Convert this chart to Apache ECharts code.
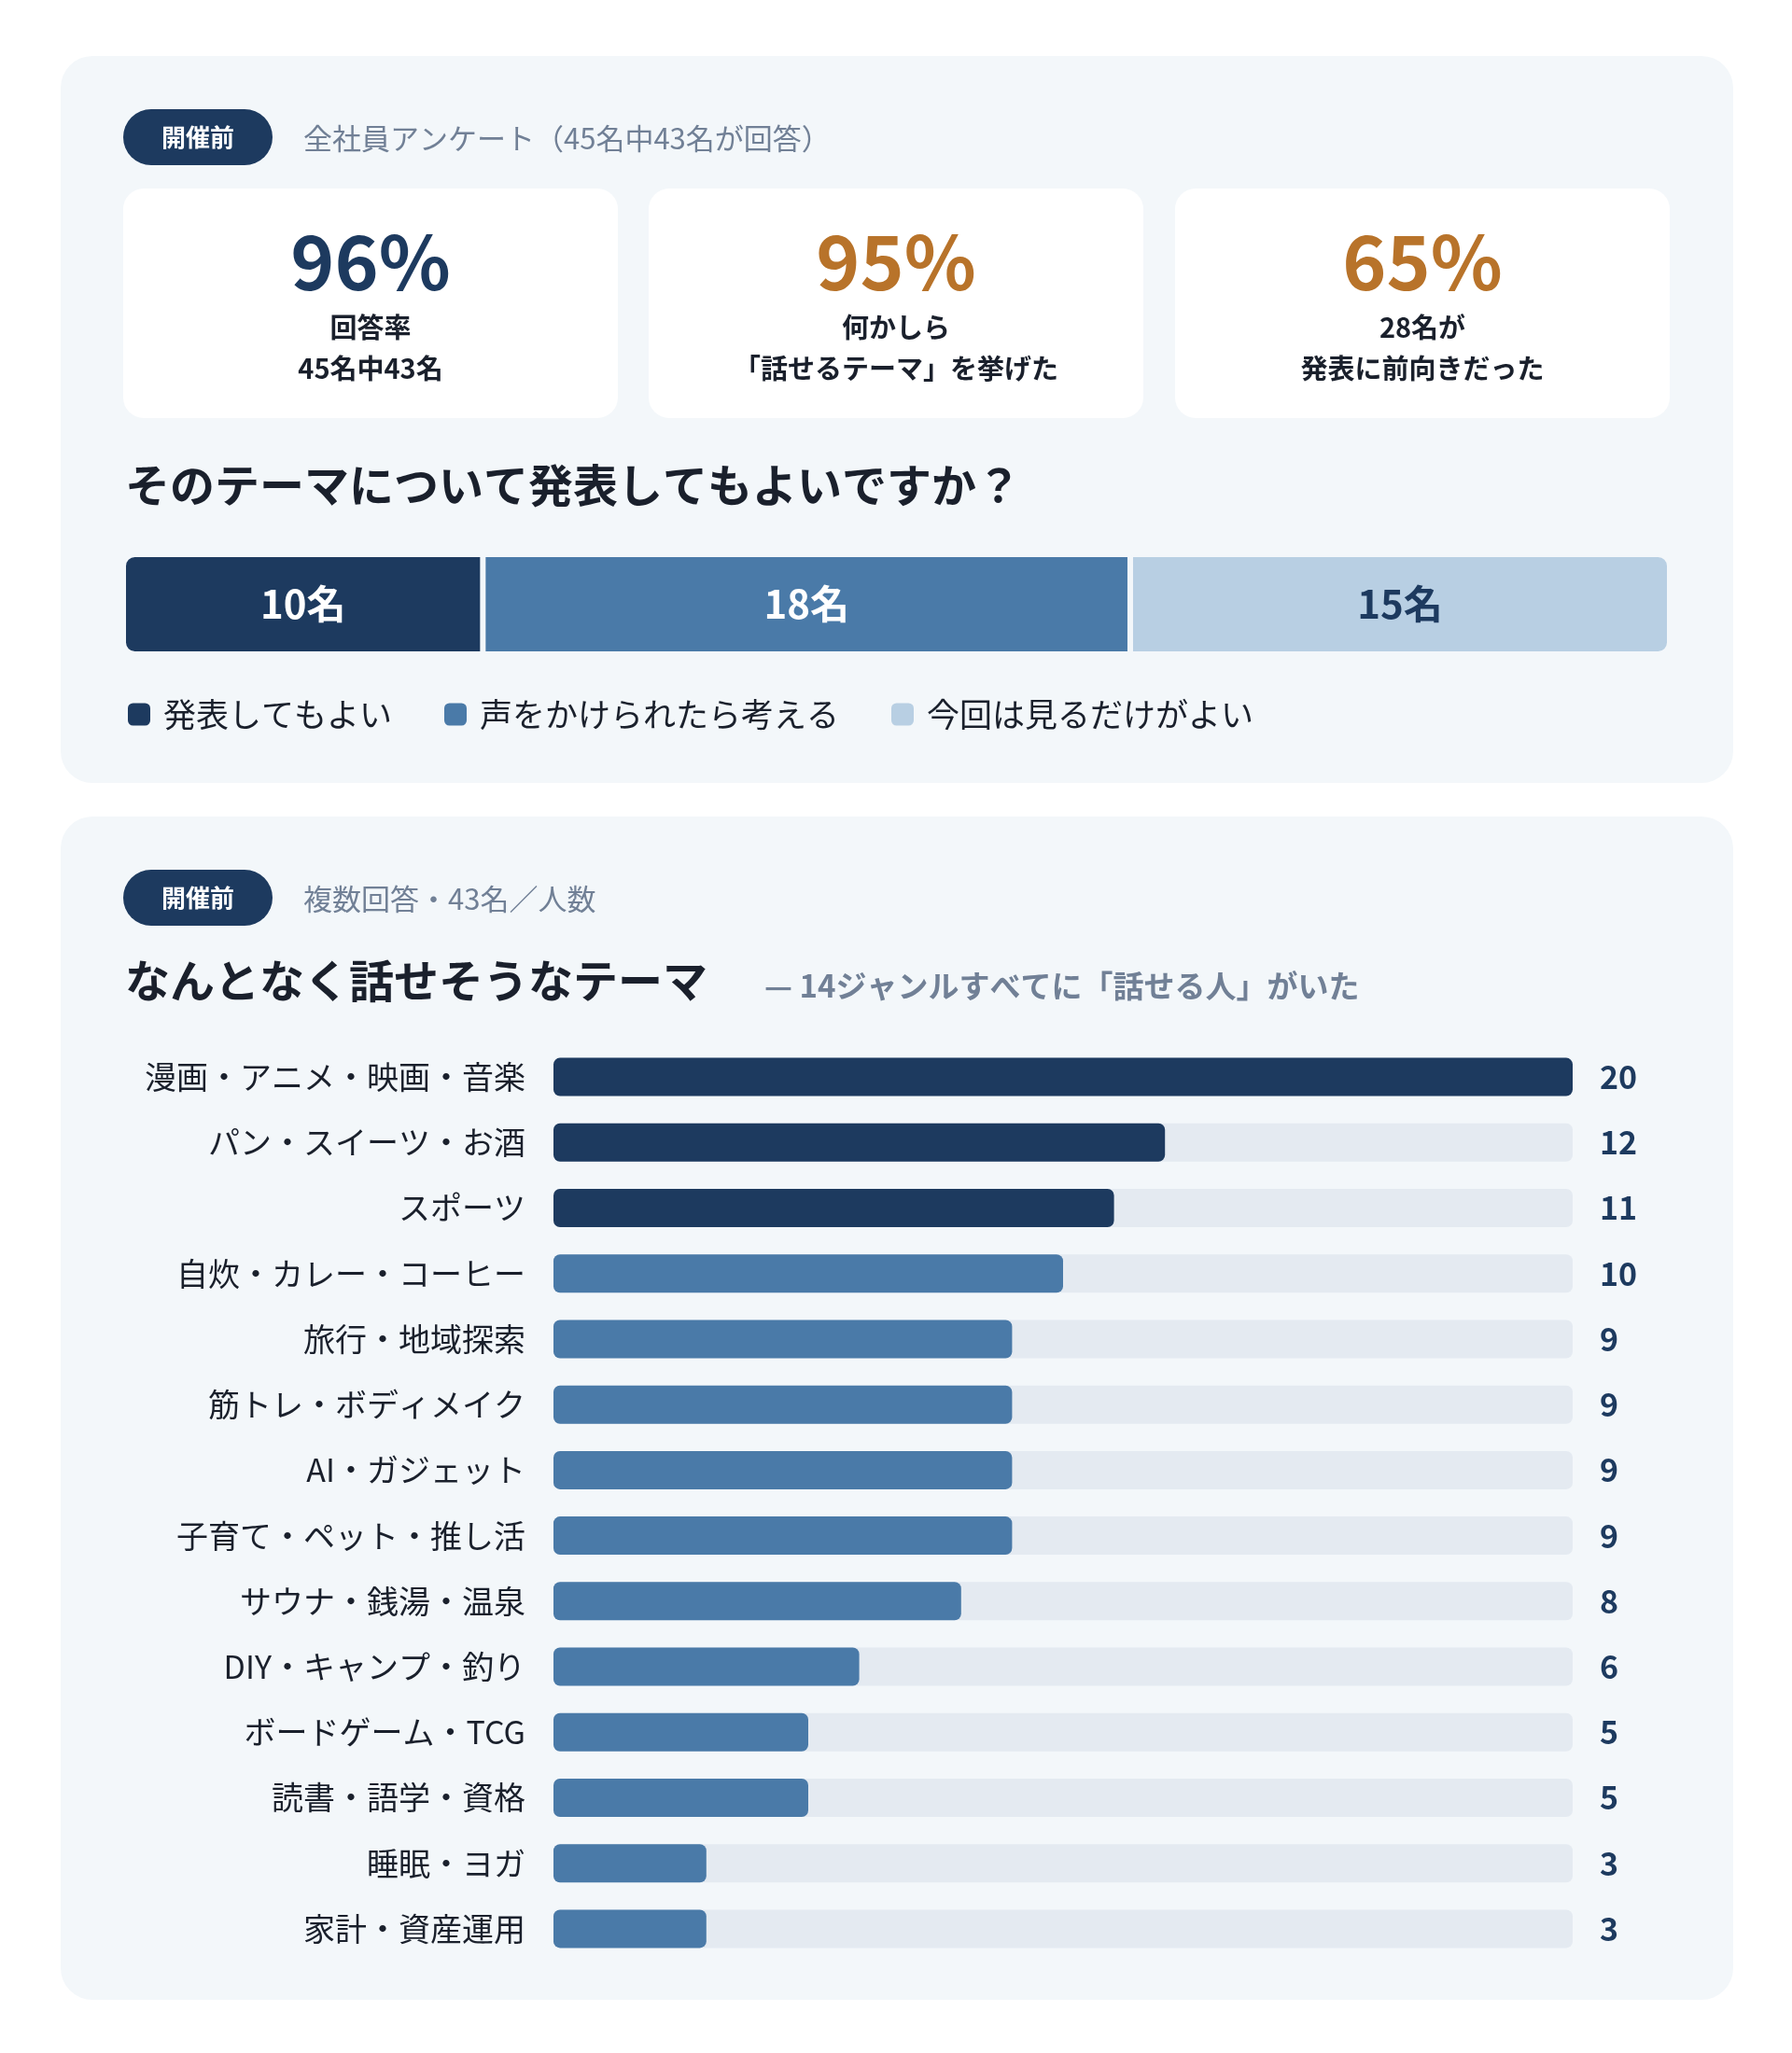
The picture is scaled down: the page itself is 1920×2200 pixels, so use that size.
<!DOCTYPE html>
<html>
<head>
<meta charset="utf-8">
<script src="https://cdn.jsdelivr.net/npm/echarts@6/dist/echarts.min.js"></script>
<style>
  html, body { margin: 0; padding: 0; background: #fff; }
  #chart { width: 1920px; height: 2200px; }
</style>
</head>
<body>
<div id="chart"></div>
<script>
// data
var attitudeNames = ['発表してもよい', '声をかけられたら考える', '今回は見るだけがよい'];
var attitudeValues = [10, 18, 15];
var themeNames = ['漫画・アニメ・映画・音楽', 'パン・スイーツ・お酒', 'スポーツ', '自炊・カレー・コーヒー',
  '旅行・地域探索', '筋トレ・ボディメイク', 'AI・ガジェット', '子育て・ペット・推し活',
  'サウナ・銭湯・温泉', 'DIY・キャンプ・釣り', 'ボードゲーム・TCG', '読書・語学・資格',
  '睡眠・ヨガ', '家計・資産運用'];
var themeValues = [20, 12, 11, 10, 9, 9, 9, 9, 8, 6, 5, 5, 3, 3];
var cardValues = ['96%', '95%', '65%'];
var cardLines = [['回答率', '45名中43名'], ['何かしら', '「話せるテーマ」を挙げた'], ['28名が', '発表に前向きだった']];

var FONT = '"Noto Sans CJK JP", "Noto Sans", sans-serif';
var DARK = '#1d3a5f', MID = '#4a7aa8', LIGHT = '#b8cfe3', TRACK = '#e4eaf1';
var GRAY = '#718096', ORANGE = '#b8732a', PANEL = '#f3f7fa';

var chart = echarts.init(document.getElementById('chart'));

var graphics = [
  { type: 'rect', shape: { x: 65, y: 60, width: 1792, height: 779, r: 34 }, style: { fill: PANEL }, z: -10 },
  { type: 'rect', shape: { x: 65, y: 875, width: 1792, height: 1268, r: 34 }, style: { fill: PANEL }, z: -10 }
];

function badge(y, sub) {
  graphics.push({ type: 'rect', shape: { x: 132, y: y, width: 160, height: 60, r: 30 }, style: { fill: DARK } });
  graphics.push({ type: 'text', x: 212, y: y + 30, style: { text: '開催前', fill: '#fff', font: 'bold 26px ' + FONT, align: 'center', verticalAlign: 'middle' } });
  graphics.push({ type: 'text', x: 325, y: y + 31, style: { text: sub, fill: GRAY, font: '31px ' + FONT, verticalAlign: 'middle' } });
}
badge(117, '全社員アンケート（45名中43名が回答）');
badge(932, '複数回答・43名／人数');

var cardX = [132, 695, 1259];
cardValues.forEach(function (v, i) {
  var cx = cardX[i] + 265;
  graphics.push({ type: 'rect', shape: { x: cardX[i], y: 202, width: 530, height: 246, r: 22 }, style: { fill: '#fff' } });
  graphics.push({ type: 'text', x: cx, y: 281, style: { text: v, fill: i === 0 ? DARK : ORANGE, font: 'bold 80px ' + FONT, align: 'center', verticalAlign: 'middle' } });
  cardLines[i].forEach(function (t, j) {
    graphics.push({ type: 'text', x: cx, y: 351 + j * 44, style: { text: t, fill: '#1a202c', font: 'bold 29px ' + FONT, align: 'center', verticalAlign: 'middle' } });
  });
});

graphics.push({ type: 'text', x: 134, y: 520, style: { text: 'そのテーマについて発表してもよいですか？', fill: '#1a202c', font: 'bold 48px ' + FONT, verticalAlign: 'middle' } });
graphics.push({ type: 'text', x: 134, y: 1051, style: { text: 'なんとなく話せそうなテーマ', fill: '#1a202c', font: 'bold 48px ' + FONT, verticalAlign: 'middle' } });
graphics.push({ type: 'text', x: 819, y: 1056, style: { text: '— 14ジャンルすべてに「話せる人」がいた', fill: GRAY, font: 'bold 33px ' + FONT, verticalAlign: 'middle' } });

var attColors = [DARK, MID, LIGHT];
var stackSeries = attitudeNames.map(function (name, i) {
  var r = i === 0 ? [11, 0, 0, 11] : (i === attitudeNames.length - 1 ? [0, 11, 11, 0] : 0);
  return {
    name: name, type: 'bar', stack: 'a', xAxisIndex: 0, yAxisIndex: 0, barWidth: 107,
    data: [attitudeValues[i]],
    itemStyle: { color: attColors[i], borderRadius: r, borderColor: '#f3f7fa', borderWidth: 3 },
    label: { show: true, position: 'inside', formatter: '{c}名', fontFamily: FONT, fontWeight: 'bold', fontSize: 42, color: i === 2 ? DARK : '#fff' }
  };
});

chart.setOption({
  animation: false,
  graphic: graphics,
  legend: {
    left: 130, top: 743, itemWidth: 26, itemHeight: 26, itemGap: 54,
    data: attitudeNames.map(function (n, i) { return { name: n, itemStyle: { color: attColors[i] } }; }),
    icon: 'roundRect',
    textStyle: { fontFamily: FONT, fontSize: 35, color: '#1a202c', padding: [0, 0, 0, 8] }
  },
  grid: [
    { left: 132, top: 594, width: 1657, height: 107 },
    { left: 593, top: 1119, width: 1092, height: 983 }
  ],
  xAxis: [
    { type: 'value', gridIndex: 0, min: 0, max: 43, show: false },
    { type: 'value', gridIndex: 1, min: 0, max: 20, show: false }
  ],
  yAxis: [
    { type: 'category', gridIndex: 0, data: ['a'], show: false },
    { type: 'category', gridIndex: 1, data: themeNames, inverse: true,
      axisLine: { show: false }, axisTick: { show: false },
      axisLabel: { margin: 30, fontFamily: FONT, fontSize: 34, color: '#1a202c' } },
    { type: 'category', gridIndex: 1, data: themeValues.map(String), inverse: true, position: 'right',
      axisLine: { show: false }, axisTick: { show: false },
      axisLabel: { margin: 29, align: 'left', fontFamily: FONT, fontSize: 34, fontWeight: 'bold', color: DARK } }
  ],
  series: stackSeries.concat([{
    type: 'bar', xAxisIndex: 1, yAxisIndex: 1, barWidth: 41,
    showBackground: true,
    backgroundStyle: { color: TRACK, borderRadius: 7 },
    data: themeValues.map(function (v, i) {
      return { value: v, itemStyle: { color: i < 3 ? DARK : MID, borderRadius: 7 } };
    })
  }])
});
</script>
</body>
</html>
